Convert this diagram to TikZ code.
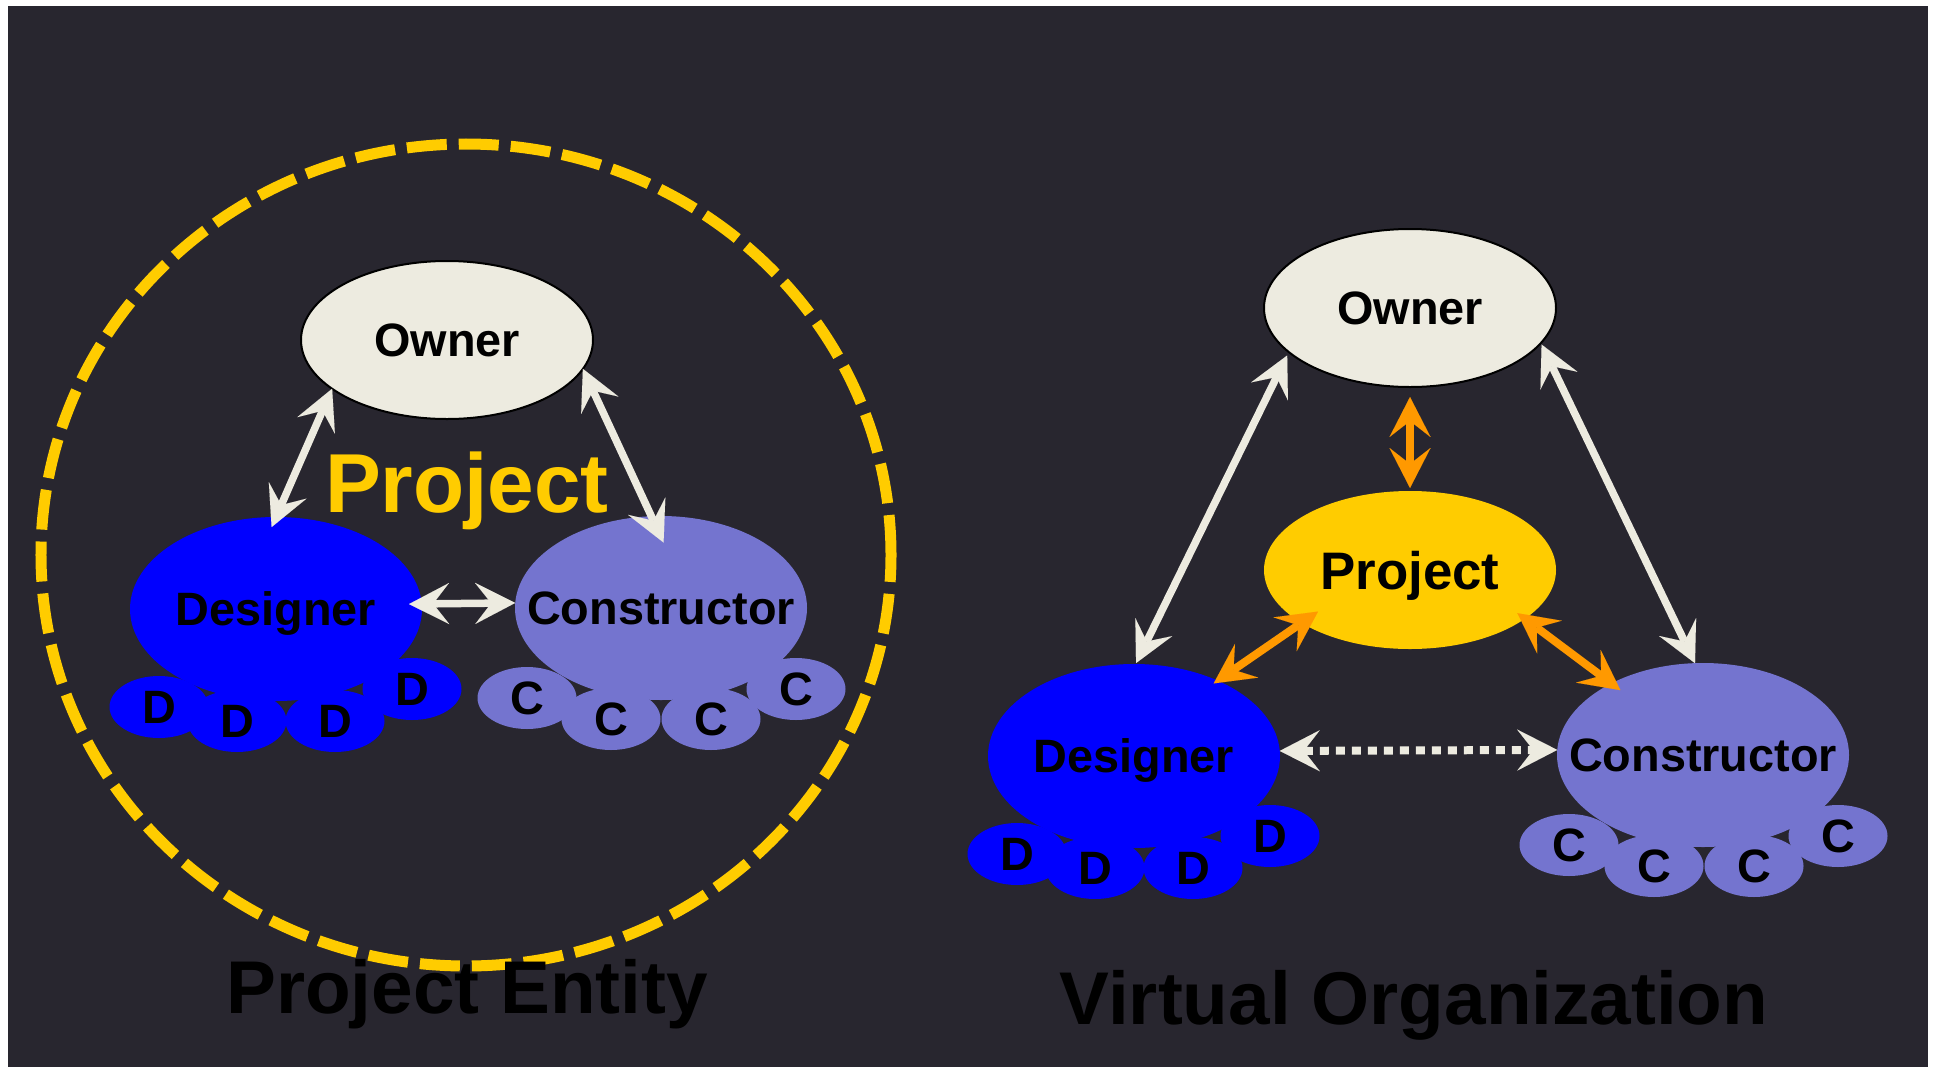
\documentclass[tikz,border=0pt]{standalone}
\usepackage{fontspec}
\setmainfont{Liberation Sans}
\usetikzlibrary{shapes.geometric,arrows.meta}
\definecolor{bgc}{HTML}{28262F}
\definecolor{ownc}{HTML}{EDEBE0}
\definecolor{conc}{HTML}{7474CF}
\definecolor{projc}{HTML}{FFCC00}
\definecolor{orc}{HTML}{FF9900}
\tikzset{
  big/.style={ellipse, minimum width=292bp, minimum height=184bp, inner sep=0pt,
    outer sep=0pt, text depth=0pt, font=\fontsize{47}{47}\selectfont\bfseries},
  ownbox/.style={big, minimum height=158bp, fill=ownc, draw=black, line width=2bp},
  desbox/.style={big, fill=blue},
  conbox/.style={big, fill=conc},
  projbox/.style={big, minimum height=158bp, fill=projc,
    font=\fontsize{53}{53}\selectfont\bfseries},
  dsub/.style={ellipse, minimum width=99bp, minimum height=62bp, inner sep=0pt,
    outer sep=0pt, text depth=0pt, fill=blue, font=\fontsize{47}{47}\selectfont\bfseries},
  csub/.style={dsub, fill=conc},
  warr/.style={<->, draw=ownc, line width=7.5bp},
  oarr/.style={<->, draw=orc, line width=8bp},
  darr/.style={<->, draw=ownc, line width=8bp, dash pattern=on 9bp off 7bp},
  title/.style={anchor=base, font=\fontsize{75}{75}\selectfont\bfseries, text=black},
}
\begin{document}
\begin{tikzpicture}[x=1bp, y=-1bp,
  >={Stealth[length=40bp, width=41bp, inset=16bp, line width=0.01bp]}]
\useasboundingbox (0,0) rectangle (1937,1067);
\fill[white] (0,0) rectangle (1937,1067);
\fill[bgc] (8,6) rectangle (1928,1067);

% ---------- left: project entity ----------
\draw[projc, line width=11bp, dash pattern=on 40bp off 12bp]
  (466,555) ellipse [x radius=425bp, y radius=411bp];

\node[ownbox] (lown) at (447,340) {\makebox[0pt]{Owner}};
\node[desbox] (ldes) at (276,609) {\makebox[0pt]{Designer}};
\node[conbox] (lcon) at (661,608) {\makebox[0pt]{Constructor}};

\node[dsub] (ld1) at (159,707) {D};
\node[dsub] (ld2) at (237,721) {D};
\node[dsub] (ld3) at (335,721) {D};
\node[dsub] (ld4) at (412,689) {D};
\node[csub] (lc1) at (527,698) {C};
\node[csub] (lc2) at (611,719) {C};
\node[csub] (lc3) at (711,719) {C};
\node[csub] (lc4) at (796,689) {C};

\node[anchor=base, text=projc, font=\fontsize{84}{84}\selectfont\bfseries]
  (ltag) at (467,512) {Project};

\draw[warr, shorten >=-11bp] (lown.203.5) -- (ldes.90.9);
\draw[warr, shorten >=-29bp] (lown.348.5) -- (lcon.96.8);
\draw[warr, shorten <=-12.7bp] (ldes.2.36) -- (lcon.178.04);

\node[title] (ltitle) at (467,1013) {Project Entity};

% ---------- right: virtual organization ----------
\node[ownbox] (rown) at (1410,308) {\makebox[0pt]{Owner}};
\node[projbox] (rproj) at (1410,570) {\makebox[0pt]{Project}};
\node[desbox] (rdes) at (1134,756) {\makebox[0pt]{Designer}};
\node[conbox] (rcon) at (1703,755) {\makebox[0pt]{Constructor}};

\node[dsub] (rd1) at (1017,854) {D};
\node[dsub] (rd2) at (1095,868) {D};
\node[dsub] (rd3) at (1193,868) {D};
\node[dsub] (rd4) at (1270,836) {D};
\node[csub] (rc1) at (1569,845) {C};
\node[csub] (rc2) at (1654,866) {C};
\node[csub] (rc3) at (1754,866) {C};
\node[csub] (rc4) at (1838,836) {C};

\draw[warr, shorten <=3.8bp, shorten >=1.1bp] (rown.200.9) -- (rdes.89.1);
\draw[warr, shorten <=1.7bp] (rown.345.8) -- (rcon.95);
\draw[oarr, shorten <=10bp, shorten >=3bp] (rown.south) -- (rproj.north);
\draw[oarr, shorten <=-20bp, shorten >=-4.9bp] (rproj.206.8) -- (rdes.42.3);
\draw[oarr, shorten <=-9.3bp, shorten >=-11.3bp] (rproj.337.7) -- (rcon.142.6);
\draw[darr] (rdes.2.36) -- (rcon.178.04);

\node[title] (rtitle) at (1414,1024) {Virtual Organization};
\end{tikzpicture}
\end{document}
